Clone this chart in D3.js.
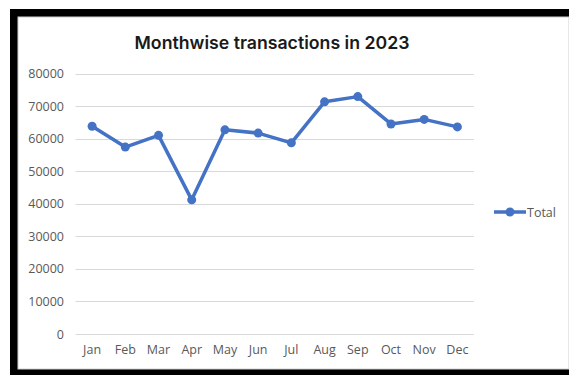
<!DOCTYPE html>
<html>
<head>
<meta charset="utf-8">
<script src="https://cdn.jsdelivr.net/npm/d3@7"></script>
<style>
html,body{margin:0;padding:0;background:#fff;}
svg{display:block;}
</style>
</head>
<body>
<svg id="chart" width="569" height="375"></svg>
<script>
const months = ["Jan","Feb","Mar","Apr","May","Jun","Jul","Aug","Sep","Oct","Nov","Dec"];
const totals = [63800,57400,61000,41200,62700,61700,58700,71300,72900,64500,65900,63600];
const yTicks = [0,10000,20000,30000,40000,50000,60000,70000,80000];
const seriesName = "Total";
const titleText = "Monthwise transactions in 2023";

const svg = d3.select("#chart");
const W = 569, H = 375;
const blue = "#4472C4";

// frame
svg.append("rect").attr("x",10).attr("y",9).attr("width",W-10).attr("height",H-9).attr("fill","#000");
svg.append("rect").attr("x",18).attr("y",17).attr("width",W-18).attr("height",369-17).attr("fill","#fff")
   .attr("stroke","#d0d0d0").attr("stroke-width",1);

const pLeft = 75.5, pRight = 474, pTop = 73.5, pBottom = 334;
const x = d3.scaleBand().domain(months).range([pLeft,pRight]);
const y = d3.scaleLinear().domain([0,80000]).range([pBottom,pTop]);

// gridlines
svg.append("g").selectAll("line").data(yTicks).join("line")
  .attr("x1",pLeft).attr("x2",pRight)
  .attr("y1",d=>Math.round(y(d))+0.5).attr("y2",d=>Math.round(y(d))+0.5)
  .attr("stroke","#d9d9d9").attr("stroke-width",1);

// y axis labels
const yAxis = d3.axisLeft(y).tickValues(yTicks).tickSize(0).tickPadding(0).tickFormat(d3.format("d"));
const ya = svg.append("g").attr("transform",`translate(64,0)`).call(yAxis);
ya.select(".domain").remove();
ya.selectAll("text").attr("fill","#595959").attr("font-family","'Open Sans', sans-serif").attr("font-size","12.5px");

// x axis labels
const xAxis = d3.axisBottom(x).tickSize(0).tickPadding(0);
const xa = svg.append("g").attr("transform",`translate(0,345)`).call(xAxis);
xa.select(".domain").remove();
xa.selectAll("text").attr("fill","#595959").attr("font-family","'Open Sans', sans-serif").attr("font-size","12.5px");

// line
const cx = d=>x(d)+x.bandwidth()/2;
const line = d3.line().x((d,i)=>cx(months[i])).y(d=>y(d));
svg.append("path").datum(totals).attr("d",line).attr("fill","none")
  .attr("stroke",blue).attr("stroke-width",3.5).attr("stroke-linejoin","round");
svg.append("g").selectAll("circle").data(totals).join("circle")
  .attr("cx",(d,i)=>cx(months[i])).attr("cy",d=>y(d)).attr("r",4.5).attr("fill",blue);

// title
svg.append("text").attr("x",272).attr("y",49).attr("text-anchor","middle")
  .attr("font-family","Inter, 'Open Sans', sans-serif").attr("font-weight","600").attr("font-size","17.7px")
  .attr("fill","#1a1a1a").text(titleText);

// legend
const lg = svg.append("g");
lg.append("line").attr("x1",494).attr("x2",526).attr("y1",212).attr("y2",212).attr("stroke",blue).attr("stroke-width",3.5);
lg.append("circle").attr("cx",510).attr("cy",212).attr("r",4.5).attr("fill",blue);
lg.append("text").attr("x",527).attr("y",216.5).attr("fill","#595959")
  .attr("font-family","'Open Sans', sans-serif").attr("font-size","12.5px").text(seriesName);
</script>
</body>
</html>
